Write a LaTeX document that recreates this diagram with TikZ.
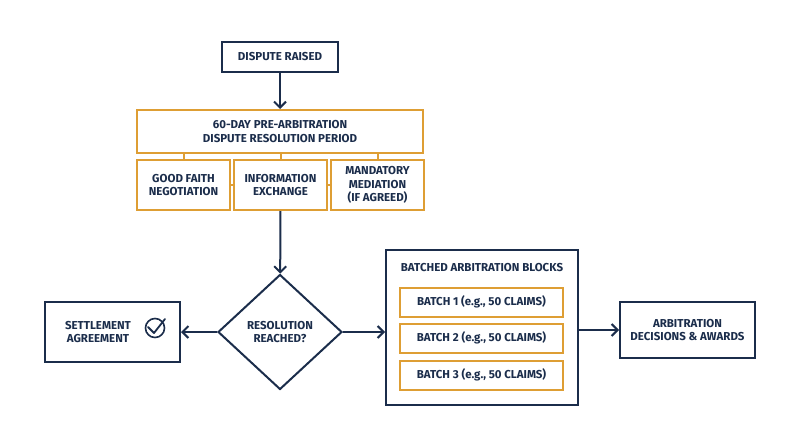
\documentclass[tikz,border=0pt]{standalone}
\usepackage{fontspec}
\setmainfont{Fira Sans}
\usetikzlibrary{shapes.geometric,arrows.meta}
\definecolor{navy}{RGB}{27,45,75}
\definecolor{gold}{RGB}{222,158,52}
\tikzset{every picture/.style={line width=0.75pt}}
\tikzset{
  label font/.style={font=\fontsize{11.5}{13.5}\selectfont\bfseries},
  navybox/.style={draw=navy,line width=2pt,fill=white,text=navy,align=center,label font,inner sep=0pt},
  goldbox/.style={draw=gold,line width=2pt,fill=white,text=navy,align=center,label font,inner sep=0pt},
  flow/.style={draw=navy,line width=2pt,-{Straight Barb[length=6pt,width=12pt]}},
  tick/.style={draw=gold,line width=2pt}
}
\begin{document}
\begin{tikzpicture}[x=1pt,y=1pt,yscale=-1,xscale=1]
\useasboundingbox (0,0) rectangle (800,447);

% top
\node [navybox,minimum width=116,minimum height=30] (raised) at (280,57) {DISPUTE RAISED};
\node [goldbox,minimum width=286,minimum height=43] (period) at (280,131.5) {60-DAY PRE-ARBITRATION\\DISPUTE RESOLUTION PERIOD};

% sub steps
\node [goldbox,minimum width=93,minimum height=50] (faith) at (183.5,185) {GOOD FAITH\\NEGOTIATION};
\node [goldbox,minimum width=93,minimum height=50] (info) at (280.5,185) {INFORMATION\\EXCHANGE};
\node [goldbox,minimum width=93,minimum height=50] (mediation) at (377.5,185) {MANDATORY\\MEDIATION\\(IF AGREED)};
\draw [tick] (faith.north) -- (faith.north |- period.south);
\draw [tick] (info.north) -- (info.north |- period.south);
\draw [tick] (mediation.north) -- (mediation.north |- period.south);
\draw [tick] (faith.east) -- (info.west);
\draw [tick] (info.east) -- (mediation.west);

% decision
\node [navybox,diamond,minimum width=124,minimum height=115] (reached) at (280,332) {RESOLUTION\\REACHED?};
\node [navybox,minimum width=135,minimum height=60] (settle) at (112.5,332) {};
\node [text=navy,align=center,label font] (settletext) at (98,332) {SETTLEMENT\\AGREEMENT};
\node [draw=navy,line width=1.6pt,circle,minimum size=19,inner sep=0pt] (check) at (155,328) {};
\draw [navy,line width=1.8pt,line cap=round,line join=round] (148,327) -- (154,333) -- (165,319);

% batches
\node [navybox,minimum width=192,minimum height=155] (blocks) at (482,327.5) {};
\node [text=navy,label font] (title) at (482,268) {BATCHED ARBITRATION BLOCKS};
\node [goldbox,minimum width=163,minimum height=29] (b1) at (481.5,302) {BATCH 1 (e.g., 50 CLAIMS)};
\node [goldbox,minimum width=163,minimum height=29] (b2) at (481.5,338) {BATCH 2 (e.g., 50 CLAIMS)};
\node [goldbox,minimum width=163,minimum height=29] (b3) at (481.5,375) {BATCH 3 (e.g., 50 CLAIMS)};
\node [navybox,minimum width=135,minimum height=56] (awards) at (687.5,330) {ARBITRATION\\DECISIONS \& AWARDS};

% connectors
\draw [flow] (raised) -- (period);
\draw [flow] (info) -- (reached);
\draw [flow] (reached) -- (settle);
\draw [flow] (reached) -- (reached -| blocks.west);
\draw [flow] (blocks.east |- awards) -- (awards);

\end{tikzpicture}
\end{document}
